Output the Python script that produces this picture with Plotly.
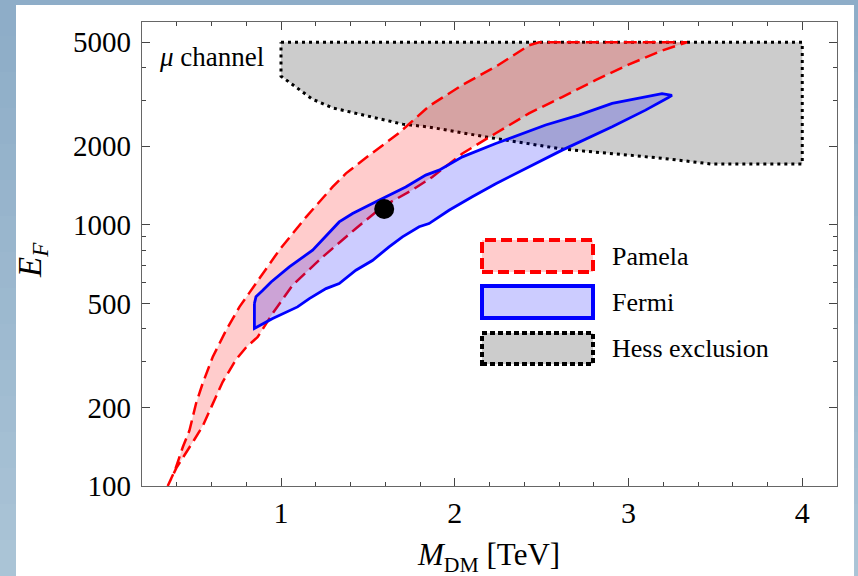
import plotly.graph_objects as go
import numpy as np

# ---------------- data ----------------
pamela_upper_x = [0.348, 0.39, 0.435, 0.473, 0.511, 0.549, 0.607, 0.684, 0.761, 0.875, 0.99, 1.144, 1.297, 1.374, 1.5, 1.68, 1.853, 2.044, 2.236, 2.427, 2.485, 3.337]
pamela_upper_y = [100, 115, 141, 163, 207, 247, 312, 395, 485, 620, 800, 1071, 1397, 1574, 1830, 2250, 2850, 3433, 4034, 4864, 5000, 5000]
pamela_lower_x = [0.348, 0.40, 0.45, 0.50, 0.55, 0.607, 0.664, 0.741, 0.80, 0.866, 0.952, 1.067, 1.239, 1.431, 1.584, 1.756, 1.871, 2.044, 2.236, 2.427, 2.618, 2.81, 3.0, 3.193, 3.337]
pamela_lower_y = [100, 118, 133, 150, 170, 205, 250, 305, 340, 372, 458, 588, 753, 968, 1173, 1360, 1525, 1875, 2241, 2671, 3085, 3580, 4105, 4648, 5000]

fermi_upper_x = [0.847, 0.856, 0.894, 0.943, 1.048, 1.182, 1.335, 1.412, 1.526, 1.718, 1.833, 1.91, 2.044, 2.236, 2.523, 2.714, 2.906, 3.098, 3.193, 3.25]
fermi_upper_y = [500, 530, 560, 604, 690, 800, 1026, 1105, 1208, 1397, 1550, 1620, 1821, 2049, 2411, 2630, 2917, 3085, 3177, 3130]
fermi_lower_x = [0.847, 0.952, 1.095, 1.163, 1.259, 1.335, 1.431, 1.526, 1.622, 1.699, 1.795, 1.852, 1.967, 2.101, 2.236, 2.427, 2.618, 2.906, 3.098, 3.23]
fermi_lower_y = [401, 438, 485, 522, 570, 596, 670, 730, 823, 899, 983, 1011, 1137, 1281, 1437, 1669, 1932, 2373, 2749, 3070]

hess_x = [1.0, 4.0, 4.0, 3.48, 3.19, 2.62, 2.18, 1.85, 1.70, 1.30, 1.18, 1.0, 1.0]
hess_y = [5000, 5000, 1708, 1708, 1800, 1950, 2170, 2370, 2430, 2800, 3030, 3710, 5000]

best_x = [1.594]
best_y = [1150]

x_tickvals = [1, 2, 3, 4]
x_ticktext = ["1", "2", "3", "4"]
x_minor = [0.4, 0.6, 0.8, 1.2, 1.4, 1.6, 1.8, 2.2, 2.4, 2.6, 2.8, 3.2, 3.4, 3.6, 3.8, 4.2]
y_tickvals = [100, 200, 500, 1000, 2000, 5000]
y_ticktext = ["100", "200", "500", "1000", "2000", "5000"]
y_minor = [300, 400, 600, 700, 800, 900, 3000, 4000]

legend_labels = ["Pamela", "Fermi", "Hess exclusion"]

FONT = "Liberation Serif"

fig = go.Figure()

# Hess exclusion
fig.add_trace(go.Scatter(
    x=hess_x, y=hess_y, mode="lines", fill="toself",
    fillcolor="rgba(0,0,0,0.2)",
    line=dict(color="black", width=3, dash="3px,4px"),
    hoverinfo="skip", showlegend=False))

# Pamela
pam_x = pamela_upper_x + pamela_lower_x[::-1]
pam_y = pamela_upper_y + pamela_lower_y[::-1]
fig.add_trace(go.Scatter(
    x=pam_x, y=pam_y, mode="lines", fill="toself",
    fillcolor="rgba(255,0,0,0.2)",
    line=dict(color="#ff0000", width=2.5, dash="13px,6px"),
    hoverinfo="skip", showlegend=False))

# Fermi
fer_x = fermi_upper_x + fermi_lower_x[::-1] + [fermi_upper_x[0]]
fer_y = fermi_upper_y + fermi_lower_y[::-1] + [fermi_upper_y[0]]
fig.add_trace(go.Scatter(
    x=fer_x, y=fer_y, mode="lines", fill="toself",
    fillcolor="rgba(0,0,255,0.2)",
    line=dict(color="#0000ff", width=2.8),
    hoverinfo="skip", showlegend=False))

# best-fit point
fig.add_trace(go.Scatter(
    x=best_x, y=best_y, mode="markers",
    marker=dict(color="black", size=20),
    hoverinfo="skip", showlegend=False))

# ---------------- background (slide look) ----------------
shapes = []
top_c = np.array([142, 173, 200])
bot_c = np.array([170, 196, 214])
nb = 16
for i in range(nb):
    t = i / (nb - 1)
    c = (top_c * (1 - t) + bot_c * t).astype(int)
    y1 = 1.0474 - i * (1.0474 + 0.194) / nb
    y0 = y1 - (1.0474 + 0.194) / nb - 0.002
    shapes.append(dict(type="rect", xref="paper", yref="paper", x0=-0.205, x1=1.031,
                       y0=y0, y1=y1, line=dict(width=0), fillcolor=f"rgb({c[0]},{c[1]},{c[2]})",
                       layer="below"))
shapes.append(dict(type="rect", xref="paper", yref="paper", x0=-0.1813, x1=1.0245,
                   y0=-0.2, y1=1.0366, line=dict(width=0), fillcolor="white", layer="below"))

# ---------------- legend (drawn) ----------------
lx0, lx1 = (482 - 142) / 695, (593 - 142) / 695
rows = [(240, 272), (286, 318), (333, 364)]
styles = [
    dict(fill="rgba(255,0,0,0.2)", color="#ff0000", dash="11px,5px", width=4),
    dict(fill="rgba(0,0,255,0.2)", color="#0000ff", dash="solid", width=4),
    dict(fill="rgba(0,0,0,0.2)", color="black", dash="5px,3px", width=4),
]
annotations = []
for (ya, yb), st, lab in zip(rows, styles, legend_labels):
    shapes.append(dict(type="rect", xref="paper", yref="paper",
                       x0=lx0, x1=lx1, y0=(486 - yb) / 464, y1=(486 - ya) / 464,
                       fillcolor=st["fill"],
                       line=dict(color=st["color"], width=st["width"], dash=st["dash"])))
    annotations.append(dict(xref="paper", yref="paper", x=(610 - 142) / 695,
                            y=(486 - (ya + yb) / 2) / 464, xanchor="left", yanchor="middle",
                            text=lab, showarrow=False,
                            font=dict(family=FONT, size=26, color="black")))

annotations.append(dict(xref="paper", yref="paper", x=(157 - 142) / 695, y=(486 - 57) / 464,
                        xanchor="left", yanchor="middle", text="<i>μ</i> channel", showarrow=False,
                        font=dict(family=FONT, size=27, color="black")))
annotations.append(dict(xref="paper", yref="paper", x=(488 - 142) / 695, y=(486 - 557) / 464,
                        xanchor="center", yanchor="middle",
                        text="<i>M</i><sub>DM</sub> [TeV]", showarrow=False,
                        font=dict(family=FONT, size=31, color="black")))
annotations.append(dict(xref="paper", yref="paper", x=(32 - 142) / 695, y=(486 - 260) / 464,
                        xanchor="center", yanchor="middle", textangle=-90,
                        text="<i>E</i><sub><i>F</i></sub>", showarrow=False,
                        font=dict(family=FONT, size=33, color="black")))

axis_common = dict(showgrid=False, zeroline=False, showline=True, linecolor="#666666",
                   linewidth=1.3, mirror="allticks", ticks="inside", tickcolor="#444444",
                   ticklen=8, tickwidth=1)

fig.update_layout(
    width=858, height=576,
    margin=dict(l=142, r=21, t=22, b=90),
    paper_bgcolor="white", plot_bgcolor="white",
    shapes=shapes, annotations=annotations,
    xaxis=dict(range=[0.2, 4.2], tickmode="array", tickvals=x_tickvals, ticktext=x_ticktext,
               tickfont=dict(family=FONT, size=30, color="black"), ticklabelstandoff=0,
               minor=dict(tickmode="array", tickvals=x_minor, ticks="inside", ticklen=4,
                          tickcolor="#444444"),
               **axis_common),
    yaxis=dict(type="log", range=[2, 3.7766], tickmode="array", tickvals=y_tickvals,
               ticktext=y_ticktext, tickfont=dict(family=FONT, size=29, color="black"),
               ticklabelstandoff=4,
               minor=dict(tickmode="array", tickvals=y_minor, ticks="inside", ticklen=4,
                          tickcolor="#444444"),
               **axis_common),
    showlegend=False,
)

fig.write_html("out.html", config={"displayModeBar": False},
               post_script="document.body.style.margin='0px';document.body.style.overflow='hidden';")
